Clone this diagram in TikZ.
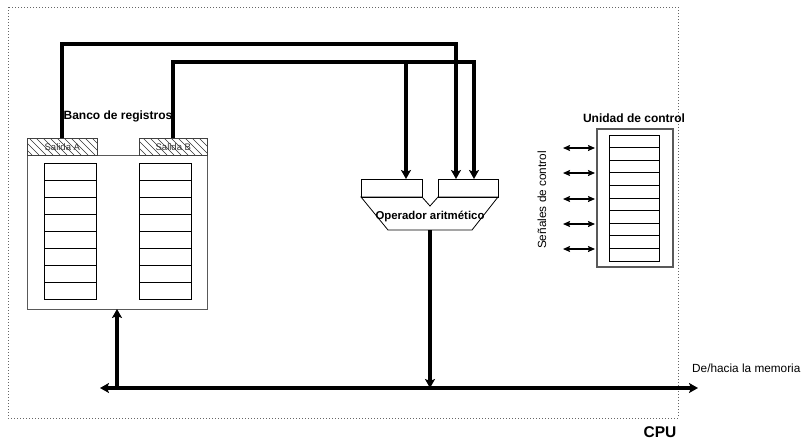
\documentclass[tikz,border=0pt]{standalone}
\usepackage{fontspec}
\setmainfont{Liberation Sans}
\usetikzlibrary{arrows.meta,calc}
\begin{document}
\begin{tikzpicture}[x=1pt,y=-1pt,
  lbl/.style={font=\fontsize{12}{14}\selectfont\bfseries, inner sep=0pt},
  small/.style={font=\fontsize{9.5}{11}\selectfont, inner sep=0pt, text=black!80},
  cell/.style={draw=black, line width=0.7pt, minimum width=52pt, inner sep=0pt, outer sep=0pt},
  outer/.style={draw=black!65, line width=1pt},
  hatchbox/.style={draw=black!75, line width=0.7pt, inner sep=0pt, anchor=north west, minimum height=17pt},
  hatchline/.style={black!80, line width=0.6pt},
  bus/.style={line width=3.1pt, -{Stealth[length=9pt,width=10pt,inset=2pt]}},
  sig/.style={line width=1.3pt, {Stealth[length=7pt,width=6pt,inset=1pt]}-{Stealth[length=7pt,width=6pt,inset=1pt]}},
]
\useasboundingbox (0,0) rectangle (802,439);
% CPU
\draw[black!60, line width=0.9pt, dash pattern=on 1pt off 2pt] (8,7) rectangle (678,418);
\node[font=\fontsize{15.5}{17}\selectfont\bfseries, inner sep=0pt, anchor=base] (cpu) at (660,437) {CPU};

% register bank
\draw[outer] (27,155) rectangle (207,309);
\coordinate (bankbot) at (117,309);
\begin{scope}
  \clip (27,138) rectangle (97,155);
  \foreach \x in {-20,-13,...,100} \draw[hatchline] (\x,138) -- ++(17,17);
\end{scope}
\begin{scope}
  \clip (139,138) rectangle (207,155);
  \foreach \x in {122,129,...,210} \draw[hatchline] (\x,138) -- ++(17,17);
\end{scope}
\node[hatchbox, minimum width=70pt] (sa) at (27,138) {};
\node[hatchbox, minimum width=68pt] (sb) at (139,138) {};
\node[small] at (sa) {Salida A};
\node[small] at (sb) {Salida B};
\node[lbl] (bank) at (118,116) {Banco de registros};
\foreach \i in {0,...,7}{
  \node[cell, minimum height=17.1pt, anchor=north west] (l\i) at (44,{163+17.1*\i}) {};
  \node[cell, minimum height=17.1pt, anchor=north west] (r\i) at (139,{163+17.1*\i}) {};
}

% ALU
\node[draw, line width=0.8pt, minimum width=61pt, minimum height=18pt, inner sep=0pt, anchor=north west] (ina) at (361,179) {};
\node[draw, line width=0.8pt, minimum width=60pt, minimum height=18pt, inner sep=0pt, anchor=north west] (inb) at (438,179) {};
\draw[line width=0.8pt] (361,197) -- (422,197) -- (430,206) -- (438,197) -- (498,197) -- (472,230) -- (388,230) -- cycle;
\node[lbl, font=\fontsize{11.4}{13}\selectfont\bfseries] (alu) at (430,216) {Operador aritmético};
\coordinate (aluout) at (430,230);

% control unit
\draw[outer, line width=1.2pt] (597,129) rectangle (673,267);
\node[lbl] (cu) at (634,118) {Unidad de control};
\foreach \i in {0,...,9}{
  \node[cell, minimum width=50pt, minimum height=12.6pt, anchor=north west] (c\i) at (609,{135+12.6*\i}) {};
}
\foreach \y [count=\k] in {148,173,199,224,249}{
  \coordinate (sl\k) at (563,\y);
  \coordinate (sr\k) at (595,\y);
  \draw[sig] (sl\k) -- (sr\k);
}
\node[font=\fontsize{11.8}{13}\selectfont, inner sep=0pt, rotate=90] (sen) at (542,200) {Señales de control};

% bus
\coordinate (busL) at (100,388);
\coordinate (busR) at (698,388);
\coordinate (busJ) at (117,388);
\coordinate (busA) at (430,388);
\draw[bus] (busJ) -- (busL);
\draw[bus] (busJ) -- (busR);
\draw[bus] (busJ) -- (bankbot);
\draw[bus] (aluout) -- (busA);
\node[font=\fontsize{11.8}{13}\selectfont, inner sep=0pt, anchor=west] (mem) at (692,368) {De/hacia la memoria};

% connections from outputs to ALU
\draw[bus] (sa.north -| 62,0) |- (456,44) -- (ina.north -| 456,0);
\draw[bus] (sb.north -| 173,0) |- (474,62) -- (inb.north -| 474,0);
\draw[bus] (406,62) -- (ina.north -| 406,0);
\end{tikzpicture}
\end{document}
